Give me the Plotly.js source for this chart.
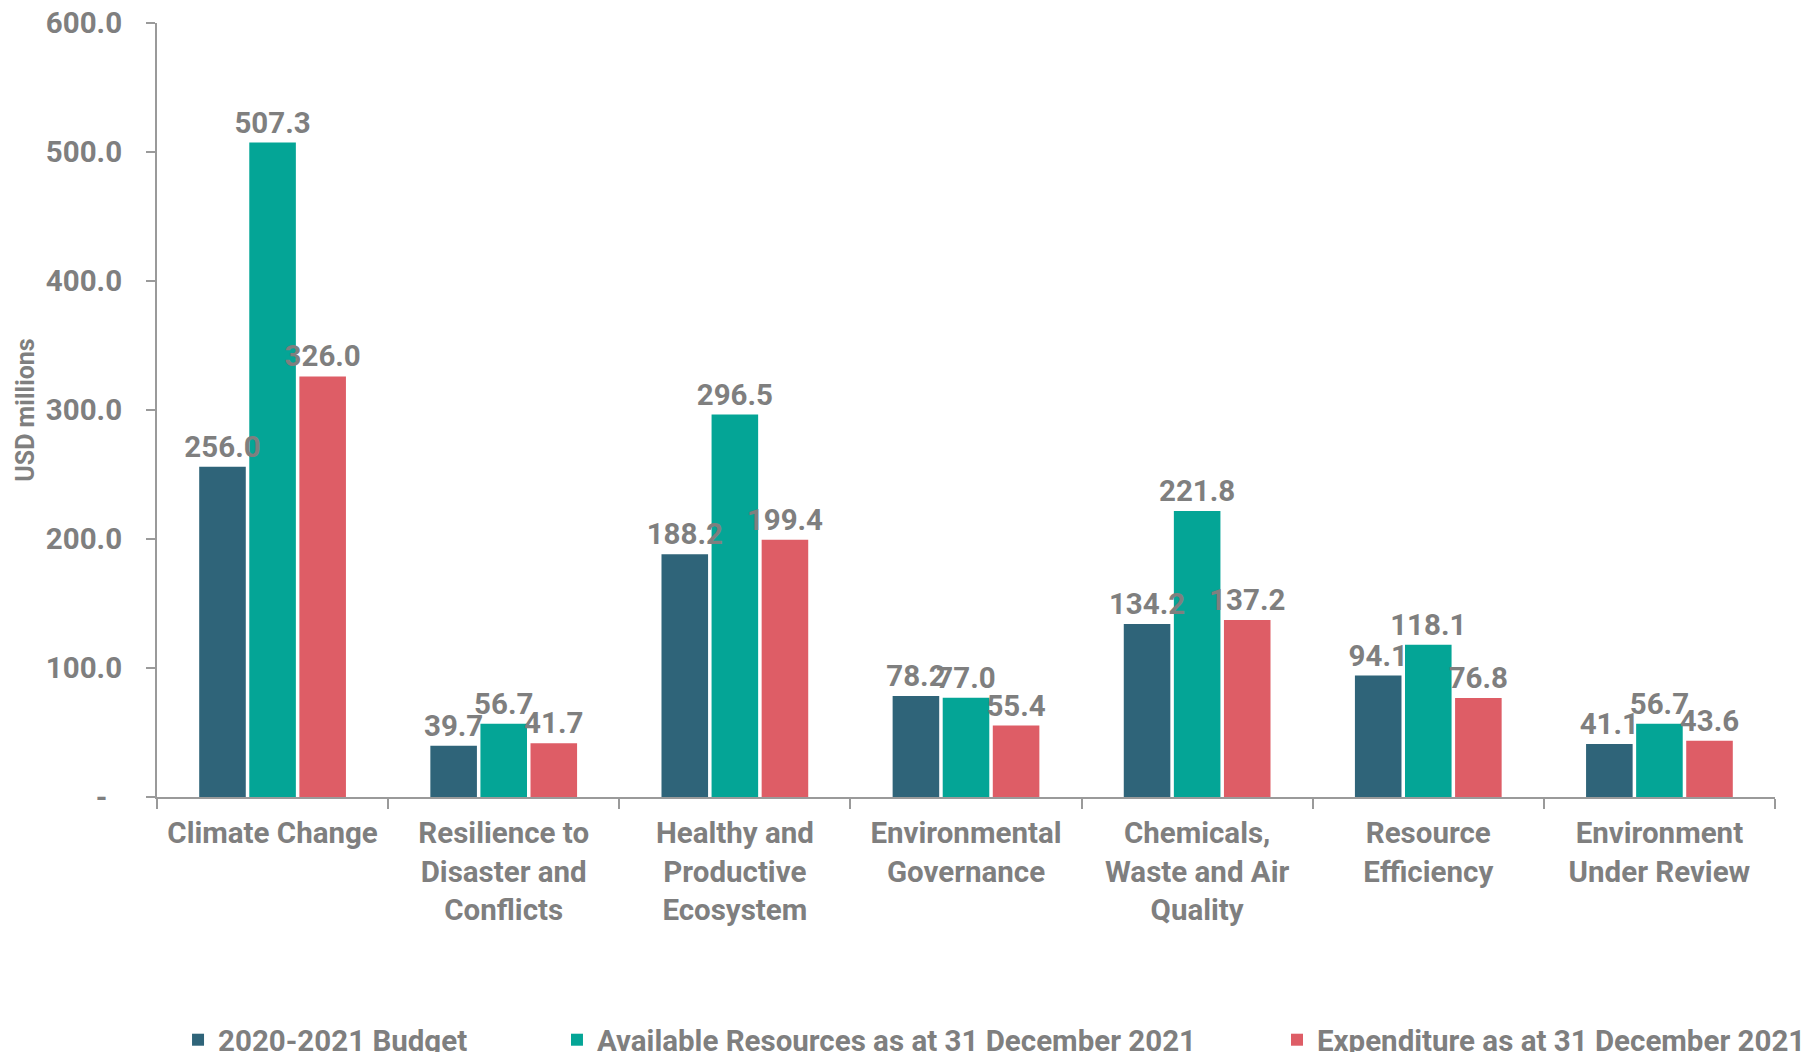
<!DOCTYPE html>
<html><head><meta charset="utf-8">
<script src="https://cdn.plot.ly/plotly-3.0.1.min.js"></script>
<style>html,body{margin:0;padding:0;background:#fff;}#chart{width:1818px;height:1052px;}</style>
</head><body><div id="chart"></div>
<script>
const categories = [
  "Climate Change",
  "Resilience to<br>Disaster and<br>Conflicts",
  "Healthy and<br>Productive<br>Ecosystem",
  "Environmental<br>Governance",
  "Chemicals,<br>Waste and Air<br>Quality",
  "Resource<br>Efficiency",
  "Environment<br>Under Review"
];
const seriesNames = ["2020-2021 Budget", "Available Resources as at 31 December 2021", "Expenditure as at 31 December 2021"];
const budget = [256.0, 39.7, 188.2, 78.2, 134.2, 94.1, 41.1];
const available = [507.3, 56.7, 296.5, 77.0, 221.8, 118.1, 56.7];
const expenditure = [326.0, 41.7, 199.4, 55.4, 137.2, 76.8, 43.6];
const yTickVals = [0, 100, 200, 300, 400, 500, 600];
const yTickText = ["-\u00a0\u00a0", "100.0", "200.0", "300.0", "400.0", "500.0", "600.0"];
const colors = ["#2F6479", "#04A596", "#DE5D66"];

const gray = "#7F7F7F";
const fontFam = "Roboto, 'Noto Sans', sans-serif";
const FS = 29.5;
const series = [budget, available, expenditure];
const legends = ["legend", "legend2", "legend3"];

// Bars (main subplot)
const barTraces = series.map((vals, i) => ({
  type: "bar",
  name: seriesNames[i],
  x: categories,
  y: vals,
  xaxis: "x", yaxis: "y",
  marker: {color: colors[i], line: {width: 0}},
  legend: legends[i],
  hoverinfo: "skip"
}));
// Value labels on an overlaid axis so they are drawn above every bar
const labelTraces = series.map((vals, i) => ({
  type: "bar",
  name: seriesNames[i] + " labels",
  x: categories,
  y: vals,
  xaxis: "x2", yaxis: "y",
  text: vals.map(v => v.toFixed(1)),
  textposition: "outside",
  constraintext: "none",
  cliponaxis: false,
  textfont: {family: fontFam, size: FS, color: gray, weight: 700},
  marker: {color: "rgba(0,0,0,0)", line: {width: 0}},
  showlegend: false,
  hoverinfo: "skip"
}));

const legBase = {orientation: "h", yanchor: "middle", y: -0.314, xanchor: "left",
  font: {family: fontFam, size: FS, color: gray, weight: 700}, bgcolor: "rgba(0,0,0,0)"};

const layout = {
  width: 1818, height: 1052,
  margin: {l: 157, r: 43, t: 23, b: 255, autoexpand: false},
  paper_bgcolor: "#ffffff", plot_bgcolor: "#ffffff",
  font: {family: fontFam, color: gray},
  barmode: "group",
  bargap: 0.35,
  bargroupgap: 0.07,
  showlegend: true,
  legend: Object.assign({}, legBase, {x: 0.013}),
  legend2: Object.assign({}, legBase, {x: 0.2472}),
  legend3: Object.assign({}, legBase, {x: 0.6922}),
  xaxis: {
    type: "category",
    showgrid: false,
    showline: true, linecolor: "#9A9A9A", linewidth: 2,
    ticks: "outside", tickson: "boundaries", ticklen: 10, tickcolor: "#9A9A9A", tickwidth: 2,
    ticklabelstandoff: 9,
    tickfont: {family: fontFam, size: FS, color: gray, weight: 700},
    automargin: false
  },
  xaxis2: {
    type: "category", overlaying: "x", matches: "x", visible: false, showgrid: false
  },
  yaxis: {
    range: [0, 600],
    tickvals: yTickVals, ticktext: yTickText,
    showgrid: false, zeroline: false,
    showline: true, linecolor: "#9A9A9A", linewidth: 2,
    ticks: "outside", ticklen: 9, tickcolor: "#9A9A9A", tickwidth: 2,
    ticklabelstandoff: 18,
    tickfont: {family: fontFam, size: FS, color: gray, weight: 700},
    title: {text: "USD millions", standoff: 4, font: {family: fontFam, size: 25, color: gray, weight: 700}},
    automargin: false
  }
};

Plotly.newPlot("chart", barTraces.concat(labelTraces), layout, {displayModeBar: false, staticPlot: true});
</script></body></html>
